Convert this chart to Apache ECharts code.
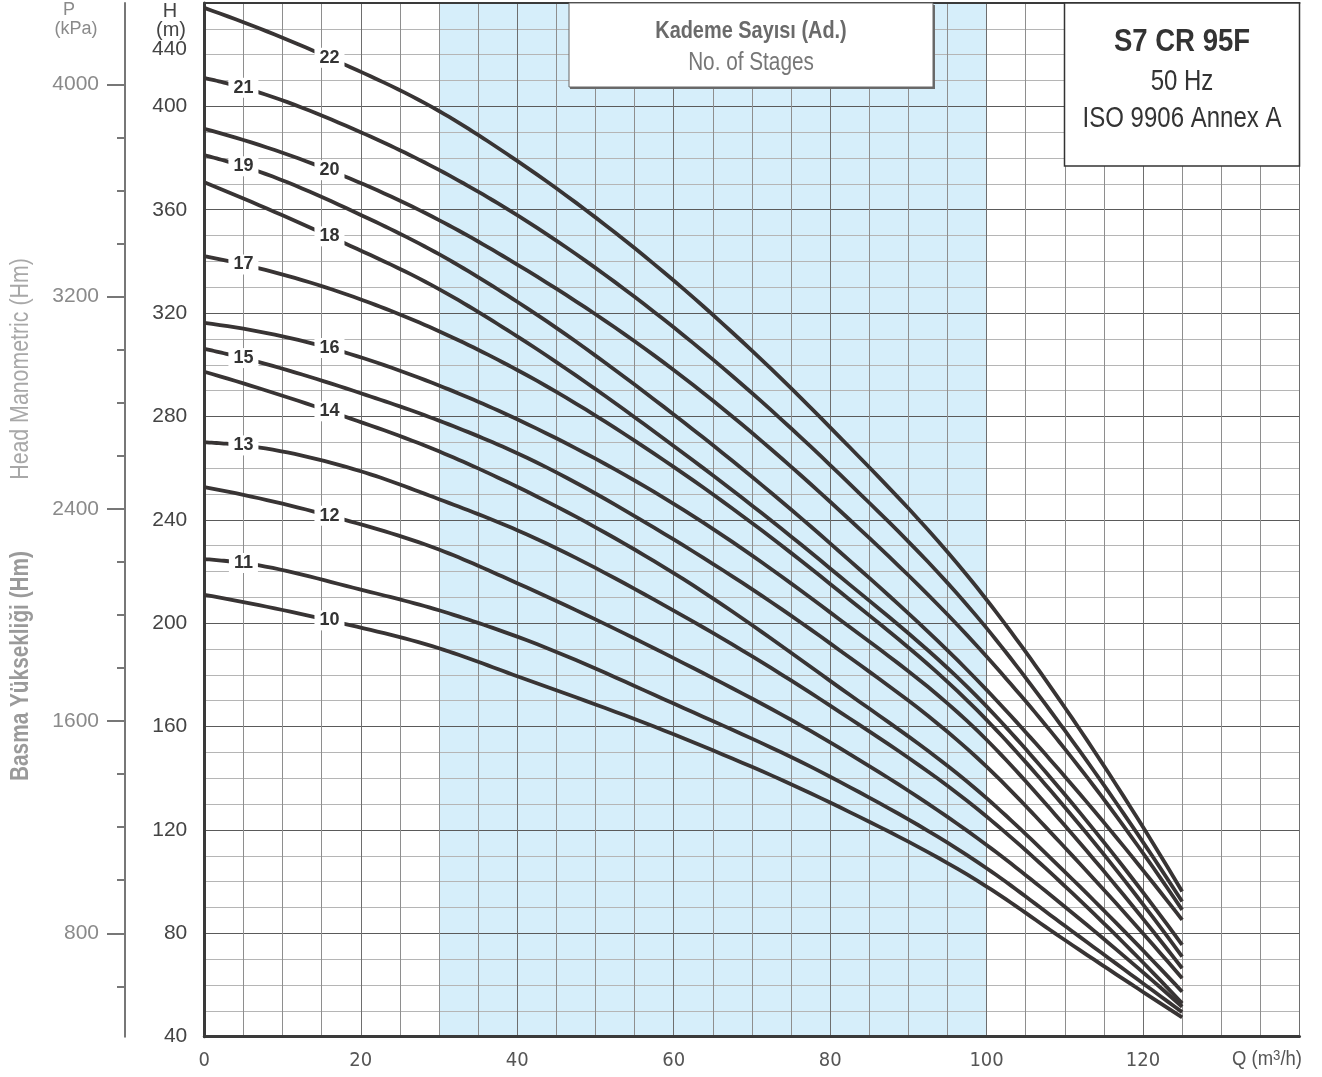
<!DOCTYPE html>
<html><head><meta charset="utf-8">
<script src="https://cdn.jsdelivr.net/npm/echarts@6/dist/echarts.min.js"></script>
<style>html,body{margin:0;padding:0;background:#fff}#c{width:1322px;height:1077px}</style>
</head><body><div id="c"></div>
<script>
// ---- data ----
// Q (m3/h) sample points; index 1 is where the stage label sits
const flowEven = [0, 16, 30, 40, 60, 80, 100, 110, 125];
const flowOdd  = [0, 5, 20, 30, 40, 60, 80, 100, 110, 125];
const stages = [22, 21, 20, 19, 18, 17, 16, 15, 14, 13, 12, 11, 10];
// head H (m)
const head22 = [438.1, 418.8, 398.2, 378.9, 332.6, 275.8, 209.1, 167.4, 96.2];
const head21 = [411.0, 407.2, 390.0, 375.4, 357.9, 314.5, 261.2, 198.1, 158.5, 92.3];
const head20 = [391.3, 375.3, 356.0, 338.8, 298.0, 247.0, 187.1, 151.4, 89.1];
const head19 = [381.1, 376.8, 358.0, 342.8, 324.4, 280.8, 230.9, 174.2, 140.7, 85.2];
const head18 = [370.6, 349.7, 329.3, 311.0, 268.6, 221.2, 167.8, 133.7, 75.5];
const head17 = [342.0, 338.8, 325.3, 313.0, 298.0, 260.5, 215.2, 162.6, 128.8, 71.0];
const head16 = [316.2, 306.5, 292.0, 278.9, 246.2, 204.2, 154.9, 121.7, 66.5];
const head15 = [306.2, 302.6, 289.0, 278.4, 265.8, 232.4, 192.2, 144.5, 113.2, 62.6];
const head14 = [297.3, 282.0, 266.5, 252.8, 219.4, 177.7, 132.3, 103.8, 57.4];
const head13 = [270.0, 268.8, 258.8, 248.0, 236.0, 204.9, 168.1, 125.2, 98.3, 52.9];
const head12 = [252.7, 241.6, 228.5, 215.5, 186.5, 153.9, 114.2, 90.3, 51.6];
const head11 = [224.8, 223.3, 213.0, 205.0, 194.8, 168.9, 140.6, 105.2, 82.9, 49.5];
const head10 = [211.0, 201.1, 190.3, 179.5, 157.0, 130.6, 98.1, 77.4, 47.5];
const heads = {22:head22,21:head21,20:head20,19:head19,18:head18,17:head17,16:head16,15:head15,14:head14,13:head13,12:head12,11:head11,10:head10};
const xTickLabels = [0, 20, 40, 60, 80, 100, 120];
const hTickLabels = [40, 80, 120, 160, 200, 240, 280, 320, 360, 400];
const pTickLabels = [800, 1600, 2400, 3200, 4000];
const pMinorTicks = [600,800,1000,1200,1400,1600,1800,2000,2200,2400,2600,2800,3000,3200,3400,3600,3800,4000];
const shadeFrom = 30, shadeTo = 100;

// ---- chart ----
const COND = "'DejaVu Sans Condensed','DejaVu Sans',sans-serif";
const REG = "'Liberation Sans','Roboto',sans-serif";
const chart = echarts.init(document.getElementById('c'), null, {renderer:'canvas'});

// smooth cubic Hermite through the read points (data space)
function smoothPath(xs, ys, per) {
  const n = xs.length, h = [], d = [], m = [];
  for (let i = 0; i < n - 1; i++) { h[i] = xs[i+1] - xs[i]; d[i] = (ys[i+1] - ys[i]) / h[i]; }
  for (let i = 1; i < n - 1; i++) m[i] = (h[i] * d[i-1] + h[i-1] * d[i]) / (h[i-1] + h[i]);
  m[0] = ((2*h[0] + h[1]) * d[0] - h[0] * d[1]) / (h[0] + h[1]);
  m[n-1] = ((2*h[n-2] + h[n-3]) * d[n-2] - h[n-2] * d[n-3]) / (h[n-2] + h[n-3]);
  const out = [];
  for (let i = 0; i < n - 1; i++) {
    for (let k = 0; k < per; k++) {
      const t = k / per, t2 = t*t, t3 = t2*t;
      const y = (2*t3 - 3*t2 + 1) * ys[i] + (t3 - 2*t2 + t) * h[i] * m[i]
              + (-2*t3 + 3*t2) * ys[i+1] + (t3 - t2) * h[i] * m[i+1];
      out.push([xs[i] + t * h[i], y]);
    }
  }
  out.push([xs[n-1], ys[n-1]]);
  return out;
}

const curveSeries = stages.map(s => {
  const flow = (s % 2 === 1) ? flowOdd : flowEven;
  const head = heads[s];
  return {
    type: 'custom', name: String(s), coordinateSystem: 'cartesian2d',
    xAxisIndex: 0, yAxisIndex: 0, silent: true, z: 3,
    data: [[flow[1], head[1]]],
    renderItem: (params, api) => {
      const pts = smoothPath(flow, head, 16).map(p => api.coord(p));
      const lp = api.coord([flow[1], head[1]]);
      return {type: 'group', children: [
        {type: 'polyline', shape: {points: pts},
         style: {stroke: '#383434', lineWidth: 3.8, fill: 'none', lineJoin: 'round'}},
        {type: 'text', x: lp[0], y: lp[1], z2: 20,
         style: {text: String(s), fontFamily: REG, fontWeight: 'bold', fontSize: 18, fill: '#333',
                 align: 'center', verticalAlign: 'middle', backgroundColor: '#fff', padding: [2, 5, 0, 5]}}
      ]};
    }
  };
});

const txt = (x, y, text, o) => Object.assign({type: 'text', z: 102, x, y,
  style: Object.assign({text, fontFamily: REG, align: 'center', verticalAlign: 'middle'}, o.style)}, o.el || {});

const option = {
  animation: false,
  backgroundColor: '#fff',
  grid: [
    {left: 204.3, right: 22.5, top: 3, bottom: 40.3, containLabel: false},
    {left: 125, width: 1, top: 3, bottom: 40.3, containLabel: false}
  ],
  xAxis: [
    {type: 'value', gridIndex: 0, min: 0, max: 140, interval: 5, position: 'bottom',
     axisLine: {show: true, lineStyle: {color: '#3a3a3a', width: 3}},
     axisTick: {show: false},
     splitLine: {show: true, lineStyle: {color: '#8e8e8e', width: 1}},
     axisLabel: {show: true, margin: 14, fontFamily: COND, fontSize: 20, color: '#555',
       formatter: v => xTickLabels.indexOf(v) >= 0 ? String(v) : ''}},
    {type: 'value', gridIndex: 0, min: 0, max: 140, interval: 20, position: 'top',
     axisLine: {show: true, lineStyle: {color: '#3a3a3a', width: 2}},
     axisTick: {show: false}, axisLabel: {show: false},
     splitLine: {show: true, lineStyle: {color: '#6e6e6e', width: 1}}},
    {type: 'value', gridIndex: 1, min: 0, max: 1, show: false}
  ],
  yAxis: [
    {type: 'value', gridIndex: 0, min: 40, max: 440, interval: 10, position: 'left',
     axisLine: {show: true, lineStyle: {color: '#3a3a3a', width: 3}},
     axisTick: {show: false},
     splitLine: {show: true, lineStyle: {color: '#b5b5b5', width: 1}},
     axisLabel: {show: true, margin: 17, fontFamily: REG, fontSize: 21, color: '#444',
       formatter: v => hTickLabels.indexOf(v) >= 0 ? String(v) : ''}},
    {type: 'value', gridIndex: 0, min: 40, max: 440, interval: 40, position: 'right',
     axisLine: {show: true, lineStyle: {color: '#3a3a3a', width: 2}},
     axisTick: {show: false}, axisLabel: {show: false},
     splitLine: {show: true, lineStyle: {color: '#5a5a5a', width: 1}}},
    {type: 'value', gridIndex: 1, min: 410.3, max: 4306.4, position: 'left',
     axisLine: {show: true, lineStyle: {color: '#777', width: 2}},
     axisTick: {show: true, length: 8, lineStyle: {color: '#777', width: 2}, customValues: pMinorTicks},
     axisLabel: {show: false},
     splitLine: {show: false}},
    {type: 'value', gridIndex: 1, min: 410.3, max: 4306.4, position: 'left',
     axisLine: {show: false},
     axisTick: {show: true, length: 18, lineStyle: {color: '#777', width: 2}, customValues: pTickLabels},
     axisLabel: {show: true, margin: 26, fontFamily: REG, fontSize: 21, color: '#8a8a8a',
       customValues: pTickLabels, formatter: v => String(v)},
     splitLine: {show: false}}
  ],
  series: [
    {type: 'line', xAxisIndex: 0, yAxisIndex: 0, data: [[shadeFrom, 40]], symbol: 'none',
     lineStyle: {width: 0}, silent: true,
     markArea: {silent: true, z: -1, itemStyle: {color: '#d6eefa'},
       data: [[{xAxis: shadeFrom}, {xAxis: shadeTo}]]}}
  ].concat(curveSeries).concat([
    {type: 'line', xAxisIndex: 2, yAxisIndex: 2, data: [], silent: true},
    {type: 'line', xAxisIndex: 2, yAxisIndex: 3, data: [], silent: true}
  ]),
  graphic: [
    // axis headers
    txt(69, 10, 'P', {style: {fontSize: 18, fill: '#8a8a8a'}}),
    txt(76, 29, '(kPa)', {style: {fontSize: 18, fill: '#8a8a8a'}}),
    txt(170, 11, 'H', {style: {fontSize: 20, fill: '#444'}}),
    txt(171, 30, '(m)', {style: {fontSize: 20, fill: '#444'}}),
    txt(187, 49, '440', {style: {fontSize: 21, fill: '#444', align: 'right'}}),
    // axis titles (rotated)
    txt(21, 369, 'Head Manometric (Hm)', {style: {fontSize: 26, fill: '#a8a8a8'}, el: {rotation: Math.PI / 2, scaleX: 0.82}}),
    txt(21, 666, 'Basma Yüksekliği (Hm)', {style: {fontSize: 26, fontWeight: 'bold', fill: '#9a9a9a'}, el: {rotation: Math.PI / 2, scaleX: 0.8}}),
    // Q label
    {type: 'text', z: 100, x: 1232, y: 1048,
     style: {text: 'Q (m{s|3}/h)', fontFamily: REG, fontSize: 21, fill: '#555',
       rich: {s: {fontFamily: REG, fontSize: 15, fill: '#555', verticalAlign: 'top', padding: [0,0,8,0]}}},
     scaleX: 0.88},
    // Kademe box
    {type: 'rect', z: 100, shape: {x: 570, y: 5, width: 365, height: 84}, style: {fill: '#6a6a6a'}},
    {type: 'rect', z: 101, shape: {x: 569, y: 3, width: 364, height: 84}, style: {fill: '#fff', stroke: '#666', lineWidth: 1}},
    txt(751, 31, 'Kademe Sayısı (Ad.)', {style: {fontSize: 24, fontWeight: 'bold', fill: '#6a6a6a'}, el: {scaleX: 0.83}}),
    txt(751, 63, 'No. of Stages', {style: {fontSize: 25, fill: '#777'}, el: {scaleX: 0.83}}),
    // model box
    {type: 'rect', z: 101, shape: {x: 1064.5, y: 3, width: 235, height: 163}, style: {fill: '#fff', stroke: '#333', lineWidth: 1.5}},
    txt(1182, 42, 'S7 CR 95F', {style: {fontSize: 32, fontWeight: 'bold', fill: '#333'}, el: {scaleX: 0.86}}),
    txt(1182, 82, '50 Hz', {style: {fontSize: 30, fill: '#333'}, el: {scaleX: 0.8}}),
    txt(1182, 119, 'ISO 9906 Annex A', {style: {fontSize: 30, fill: '#333'}, el: {scaleX: 0.8}})
  ]
};
chart.setOption(option);
</script></body></html>
